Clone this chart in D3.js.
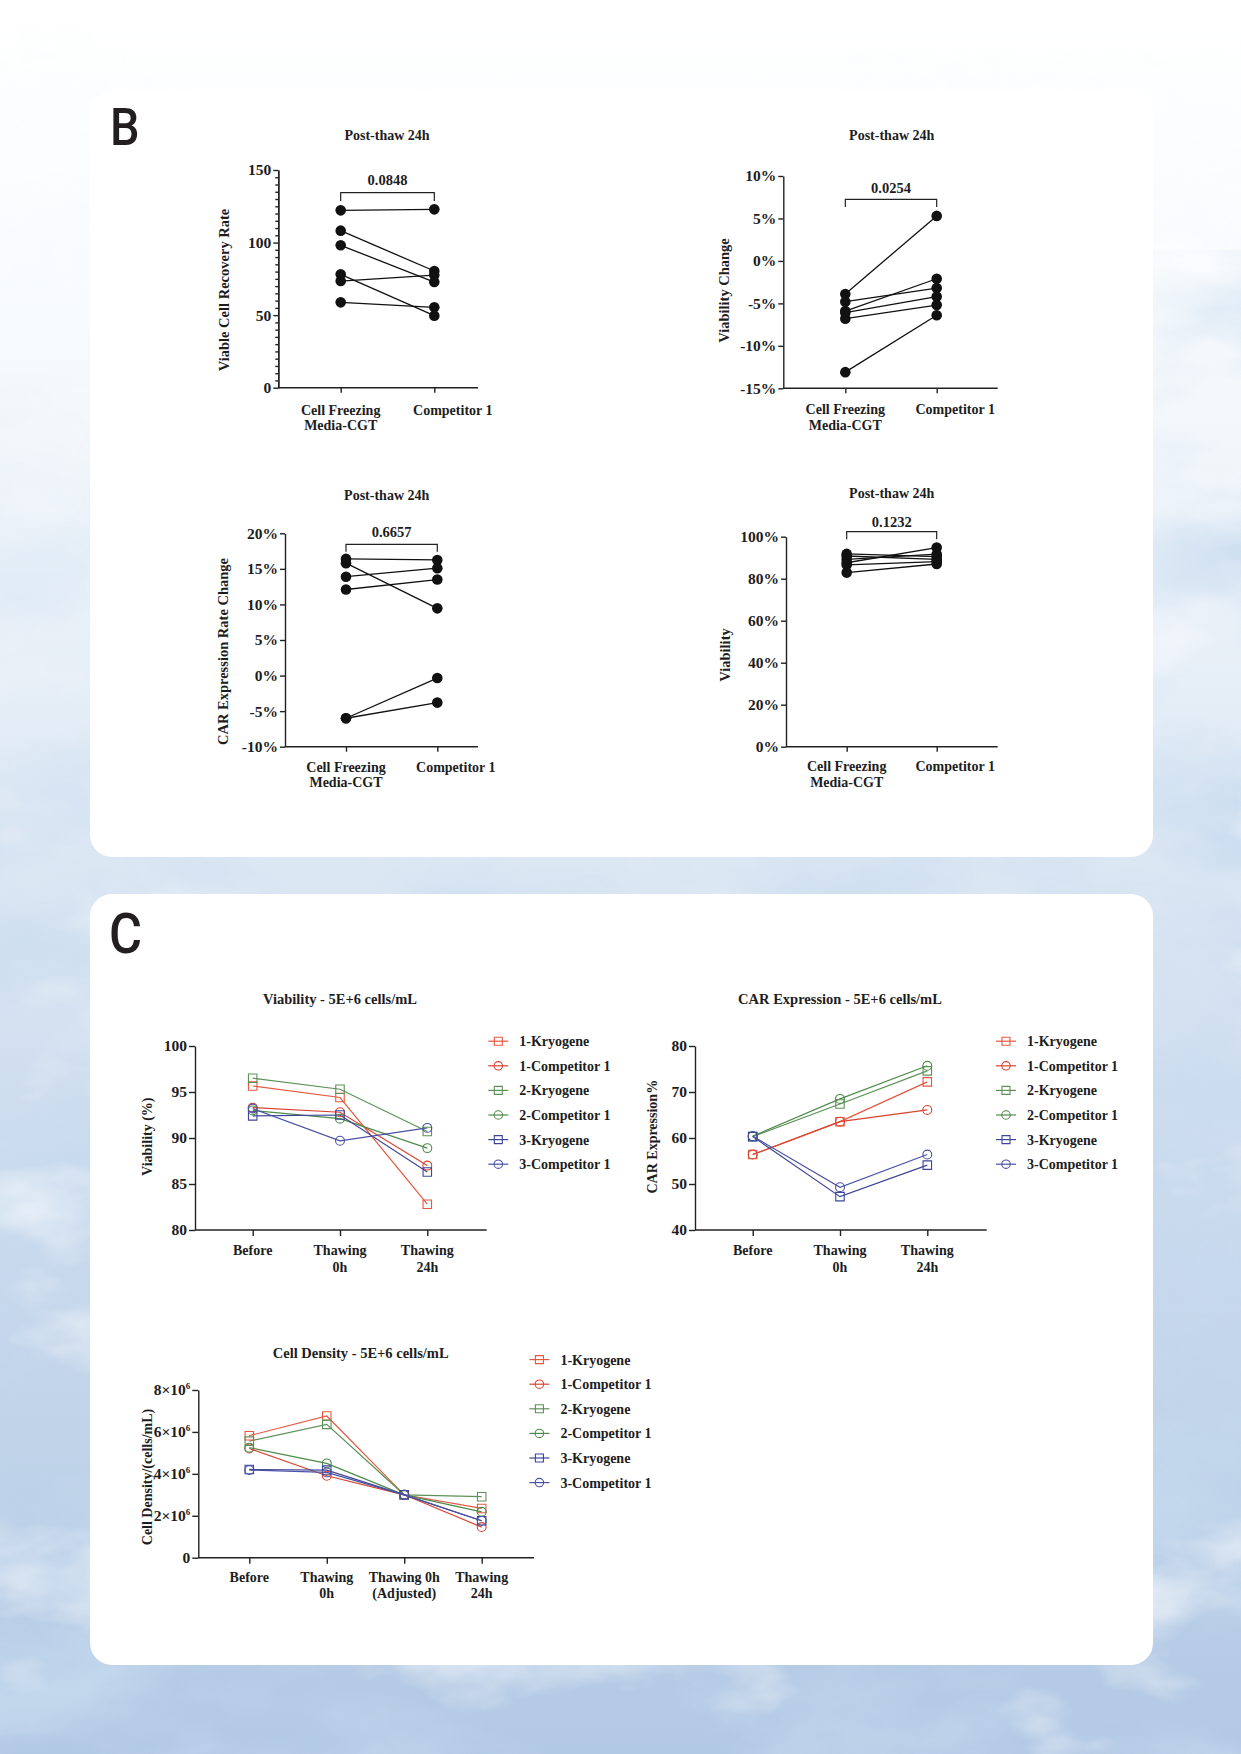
<!DOCTYPE html>
<html>
<head>
<meta charset="utf-8">
<script src="https://cdn.jsdelivr.net/npm/d3@7"></script>
<style>
body { margin: 0; }
svg { display: block; }
</style>
</head>
<body>
<script>
// ---- data ----
var pairCats = ["Cell Freezing Media-CGT", "Competitor 1"];
var pairCatLines = [["Cell Freezing", "Media-CGT"], ["Competitor 1"]];
var pValues = ["0.0848", "0.0254", "0.6657", "0.1232"];

var recoveryCGT = [122.2, 108.2, 98.1, 78.1, 73.5, 58.8];
var recoveryComp = [122.9, 80.4, 72.8, 49.6, 77.6, 55.4];
var recoveryTicks = [0, 50, 100, 150];

var viabChangeCGT = [-3.9, -4.8, -5.9, -6.1, -6.8, -13.1];
var viabChangeComp = [5.3, -3.2, -2.1, -4.2, -5.2, -6.4];
var viabChangeTicks = [-15, -10, -5, 0, 5, 10];

var carChangeCGT = [16.4, 15.8, 13.9, 12.1, -6.0, -6.0];
var carChangeComp = [16.25, 9.45, 15.1, 13.5, -0.35, -3.8];
var carChangeTicks = [-10, -5, 0, 5, 10, 15, 20];

var viabilityCGT = [91.8, 90.8, 89.2, 87.6, 86.6, 82.9];
var viabilityComp = [90.5, 89.2, 91.7, 94.8, 88.1, 87.0];
var viabilityTicks = [0, 20, 40, 60, 80, 100];

var seriesNames = ["1-Kryogene", "1-Competitor 1", "2-Kryogene", "2-Competitor 1", "3-Kryogene", "3-Competitor 1"];

var timeCats3 = ["Before", "Thawing 0h", "Thawing 24h"];
var timeCatLines3 = [["Before"], ["Thawing", "0h"], ["Thawing", "24h"]];
var timeCats4 = ["Before", "Thawing 0h", "Thawing 0h (Adjusted)", "Thawing 24h"];
var timeCatLines4 = [["Before"], ["Thawing", "0h"], ["Thawing 0h", "(Adjusted)"], ["Thawing", "24h"]];

var viabilitySeries = [
  [95.65, 94.4, 82.8],
  [93.3, 92.8, 87.0],
  [96.5, 95.3, 90.7],
  [93.0, 92.1, 88.9],
  [92.4, 92.5, 86.3],
  [93.2, 89.7, 91.1]
];
var viabilityLineTicks = [80, 85, 90, 95, 100];

var carSeries = [
  [56.4, 63.55, 72.2],
  [56.4, 63.55, 66.1],
  [60.3, 67.4, 74.6],
  [60.4, 68.5, 75.7],
  [60.3, 47.25, 54.1],
  [60.4, 49.3, 56.4]
];
var carLineTicks = [40, 50, 60, 70, 80];

var densitySeries = [
  [5.82e6, 6.76e6, 3.0e6, 2.35e6],
  [5.21e6, 3.91e6, 3.0e6, 1.46e6],
  [5.56e6, 6.36e6, 3.0e6, 2.91e6],
  [5.25e6, 4.50e6, 3.0e6, 2.19e6],
  [4.21e6, 4.18e6, 3.0e6, 1.76e6],
  [4.18e6, 4.07e6, 3.0e6, 1.76e6]
];
var densityTicks = [0, 2e6, 4e6, 6e6, 8e6];

// ---- styles ----
var seriesColors = ["#e5583f", "#d9432f", "#5c9157", "#4e8a4b", "#3d4598", "#4a51a4"];
var seriesShapes = [d3.symbolSquare, d3.symbolCircle, d3.symbolSquare, d3.symbolCircle, d3.symbolSquare, d3.symbolCircle];
var serif = "'Liberation Serif', 'Times New Roman', serif";
var ink = "#1d1d1d";

var svg = d3.select("body").append("svg")
    .attr("width", 1241)
    .attr("height", 1754);

// ---- icy background ----
var defs = svg.append("defs");
var bg = defs.append("linearGradient").attr("id", "bgGrad")
    .attr("x1", 0).attr("y1", 0).attr("x2", 0).attr("y2", 1);
[[0, "#ffffff"], [0.18, "#f8fbfd"], [0.42, "#e3ecf6"], [0.62, "#cfdeef"], [1, "#b2c9e4"]].forEach(function(s) {
  bg.append("stop").attr("offset", s[0]).attr("stop-color", s[1]);
});

var f = defs.append("filter").attr("id", "ice")
    .attr("x", 0).attr("y", 0).attr("width", 1).attr("height", 1);
f.append("feTurbulence").attr("type", "fractalNoise")
    .attr("baseFrequency", "0.004 0.008").attr("numOctaves", 5).attr("seed", 11).attr("result", "n");
f.append("feColorMatrix").attr("in", "n").attr("type", "matrix")
    .attr("values", "0 0 0 0 0.56  0 0 0 0 0.70  0 0 0 0 0.86  2.8 0 0 0 -1.2").attr("result", "blue");
f.append("feColorMatrix").attr("in", "n").attr("type", "matrix")
    .attr("values", "0 0 0 0 1  0 0 0 0 1  0 0 0 0 1  0 3.0 0 0 -1.7").attr("result", "white");
var fm = f.append("feMerge");
fm.append("feMergeNode").attr("in", "blue");
fm.append("feMergeNode").attr("in", "white");

var vfade = defs.append("linearGradient").attr("id", "vfade")
    .attr("gradientUnits", "userSpaceOnUse").attr("x1", 0).attr("y1", 0).attr("x2", 0).attr("y2", 1754);
[[0, "#000"], [0.2, "#111"], [0.45, "#808080"], [0.7, "#e0e0e0"], [1, "#fff"]].forEach(function(s) {
  vfade.append("stop").attr("offset", s[0]).attr("stop-color", s[1]);
});
var rfade = defs.append("linearGradient").attr("id", "rfade")
    .attr("gradientUnits", "userSpaceOnUse").attr("x1", 1120).attr("y1", 0).attr("x2", 1241).attr("y2", 0);
rfade.append("stop").attr("offset", 0).attr("stop-color", "#fff").attr("stop-opacity", 0);
rfade.append("stop").attr("offset", 1).attr("stop-color", "#fff").attr("stop-opacity", 0.9);

var mask = defs.append("mask").attr("id", "iceMask").attr("maskUnits", "userSpaceOnUse")
    .attr("x", 0).attr("y", 0).attr("width", 1241).attr("height", 1754);
mask.append("rect").attr("width", 1241).attr("height", 1754).attr("fill", "url(#vfade)");
mask.append("rect").attr("x", 1100).attr("y", 250).attr("width", 141).attr("height", 1504).attr("fill", "url(#rfade)");

svg.append("rect").attr("width", 1241).attr("height", 1754).attr("fill", "url(#bgGrad)");
svg.append("rect").attr("width", 1241).attr("height", 1754)
    .attr("fill", "#fff").attr("filter", "url(#ice)").attr("mask", "url(#iceMask)").attr("opacity", 0.85);

// ---- white cards ----
svg.append("rect").attr("x", 90).attr("y", 90).attr("width", 1063).attr("height", 767)
    .attr("rx", 22).attr("fill", "#ffffff");
svg.append("rect").attr("x", 90).attr("y", 894).attr("width", 1063).attr("height", 771)
    .attr("rx", 22).attr("fill", "#ffffff");

svg.append("text").attr("transform", "translate(110,145) scale(0.9,1)").attr("font-family", "Roboto, sans-serif")
    .attr("font-size", 52).attr("font-weight", 500).attr("fill", "#231f20").text("B");
svg.append("text").attr("transform", "translate(109,953) scale(0.92,1)").attr("font-family", "Roboto, sans-serif")
    .attr("font-size", 55).attr("font-weight", 500).attr("fill", "#231f20").text("C");

function styleAxis(a, size) {
  a.selectAll("path, line").attr("stroke", "#222").attr("stroke-width", 1.4);
  a.selectAll("text").attr("font-family", serif).attr("font-weight", "bold")
      .attr("font-size", size || 15.5).attr("fill", ink);
}

function label(g, x, y, txt, size, rotate) {
  var t = g.append("text")
      .attr("text-anchor", "middle")
      .attr("font-family", serif).attr("font-weight", "bold")
      .attr("font-size", size || 14).attr("fill", ink)
      .text(txt);
  if (rotate) t.attr("transform", "translate(" + x + "," + y + ") rotate(-90)").attr("dy", "0.35em");
  else t.attr("x", x).attr("y", y);
  return t;
}

function pct(d) { return d + "%"; }

// ---- paired dot charts (panel B) ----
function pairedChart(o) {
  var y = d3.scaleLinear().domain(o.domain).range([o.yBottom, o.yTop]);
  var x = d3.scalePoint().domain(pairCats).range([o.c0, o.c1]);
  var g = svg.append("g");

  label(g, o.titleX, o.titleY, "Post-thaw 24h", 14);

  if (o.minor) {
    var mi = g.append("g").attr("transform", "translate(" + o.ax + ",0)")
        .call(d3.axisLeft(y).tickValues(o.minor).tickSize(3).tickSizeOuter(0).tickFormat(""));
    styleAxis(mi);
  }
  var ya = g.append("g").attr("transform", "translate(" + o.ax + ",0)")
      .call(d3.axisLeft(y).tickValues(o.ticks).tickSize(5).tickSizeOuter(0).tickPadding(2).tickFormat(o.fmt));
  styleAxis(ya);

  var xa = g.append("g").attr("transform", "translate(0," + o.yBottom + ")")
      .call(d3.axisBottom(x).tickSize(5).tickFormat(""));
  xa.select(".domain").remove();
  styleAxis(xa);
  g.append("line").attr("x1", o.ax).attr("x2", o.xEnd)
      .attr("y1", o.yBottom).attr("y2", o.yBottom)
      .attr("stroke", "#222").attr("stroke-width", 1.4);

  // the second label sits a little right of its tick in the original
  var shift = [0, 18.5];
  pairCatLines.forEach(function(lines, i) {
    lines.forEach(function(l, j) {
      label(g, x(pairCats[i]) + shift[i], o.yBottom + o.catDy + j * 15.5, l, 14);
    });
  });

  o.left.forEach(function(v, i) {
    g.append("line")
        .attr("x1", x(pairCats[0])).attr("y1", y(v))
        .attr("x2", x(pairCats[1])).attr("y2", y(o.right[i]))
        .attr("stroke", "#111").attr("stroke-width", 1.3);
  });
  [o.left, o.right].forEach(function(arr, k) {
    g.selectAll(null).data(arr).enter().append("circle")
        .attr("cx", x(pairCats[k])).attr("cy", function(d) { return y(d); })
        .attr("r", 5.3).attr("fill", "#111");
  });

  // significance bracket
  var bx0 = x(pairCats[0]), bx1 = x(pairCats[1]);
  g.append("path")
      .attr("d", "M" + bx0 + "," + o.bBot + "V" + o.bTop + "H" + bx1 + "V" + o.bBot)
      .attr("fill", "none").attr("stroke", "#222").attr("stroke-width", 1.2);
  label(g, (bx0 + bx1) / 2, o.pY, o.p, 14.5);

  label(g, o.ylX, o.ylY, o.ylabel, 14.5, true);
}

pairedChart({ domain: [0, 150], ticks: recoveryTicks, minor: d3.range(0, 151, 5).filter(function(d) { return d % 50; }),
  fmt: d3.format("d"), left: recoveryCGT, right: recoveryComp, p: pValues[0],
  ax: 278.3, yTop: 170, yBottom: 387.7, c0: 340.7, c1: 434.3, xEnd: 478,
  titleX: 387, titleY: 140, catDy: 27, bTop: 192.7, bBot: 201, pY: 185,
  ylX: 224, ylY: 290, ylabel: "Viable Cell Recovery Rate" });

pairedChart({ domain: [-15, 10], ticks: viabChangeTicks, fmt: pct,
  left: viabChangeCGT, right: viabChangeComp, p: pValues[1],
  ax: 783.3, yTop: 176, yBottom: 388.3, c0: 845.3, c1: 936.7, xEnd: 997.7,
  titleX: 891.7, titleY: 140, catDy: 26, bTop: 199.3, bBot: 207, pY: 193,
  ylX: 724, ylY: 290.5, ylabel: "Viability Change" });

pairedChart({ domain: [-10, 20], ticks: carChangeTicks, fmt: pct,
  left: carChangeCGT, right: carChangeComp, p: pValues[2],
  ax: 285, yTop: 533.3, yBottom: 746.7, c0: 346, c1: 437.3, xEnd: 478,
  titleX: 386.7, titleY: 500, catDy: 25, bTop: 544.3, bBot: 551.7, pY: 536.5,
  ylX: 223, ylY: 651.5, ylabel: "CAR Expression Rate Change" });

pairedChart({ domain: [0, 100], ticks: viabilityTicks, fmt: pct,
  left: viabilityCGT, right: viabilityComp, p: pValues[3],
  ax: 786, yTop: 536.7, yBottom: 746.7, c0: 846.7, c1: 936.7, xEnd: 997.7,
  titleX: 891.7, titleY: 498, catDy: 24.5, bTop: 531.7, bBot: 539.3, pY: 526.5,
  ylX: 725, ylY: 655, ylabel: "Viability" });

// ---- time course charts (panel C) ----
function lineChart(o) {
  var y = d3.scaleLinear().domain(o.domain).range([o.yBottom, o.yTop]);
  var x = d3.scalePoint().domain(o.cats).range([o.c0, o.c1]);
  var g = svg.append("g");

  label(g, o.titleX, o.titleY, o.title, 14.5);

  var ya = g.append("g").attr("transform", "translate(" + o.ax + ",0)")
      .call(d3.axisLeft(y).tickValues(o.ticks).tickSize(6).tickSizeOuter(0).tickPadding(2).tickFormat(o.fmt || d3.format("d")));
  styleAxis(ya, 15.5);
  if (o.sup) {
    ya.selectAll(".tick text").each(function(d) {
      var t = d3.select(this).text("");
      if (d === 0) { t.text("0"); return; }
      t.append("tspan").text((d / 1e6) + "×10");
      t.append("tspan").attr("dy", -6).attr("font-size", 9).text("6");
    });
  }

  var xa = g.append("g").attr("transform", "translate(0," + o.yBottom + ")")
      .call(d3.axisBottom(x).tickSize(6).tickFormat(""));
  xa.select(".domain").remove();
  styleAxis(xa);
  g.append("line").attr("x1", o.ax).attr("x2", o.xEnd)
      .attr("y1", o.yBottom).attr("y2", o.yBottom)
      .attr("stroke", "#222").attr("stroke-width", 1.4);

  o.catLines.forEach(function(lines, i) {
    lines.forEach(function(l, j) {
      label(g, x(o.cats[i]), o.yBottom + o.catDy + j * 16.5, l, 14);
    });
  });

  var line = d3.line()
      .x(function(d, i) { return x(o.cats[i]); })
      .y(function(d) { return y(d); });

  o.series.forEach(function(vals, s) {
    g.append("path").attr("d", line(vals))
        .attr("fill", "none").attr("stroke", seriesColors[s]).attr("stroke-width", 1.2);
  });
  o.series.forEach(function(vals, s) {
    var sym = d3.symbol().type(seriesShapes[s]).size(seriesShapes[s] === d3.symbolSquare ? 72 : 62);
    g.selectAll(null).data(vals).enter().append("path")
        .attr("d", sym)
        .attr("transform", function(d, i) { return "translate(" + x(o.cats[i]) + "," + y(d) + ")"; })
        .attr("fill", "none").attr("stroke", seriesColors[s]).attr("stroke-width", 1.1);
  });

  label(g, o.ylX, o.ylY, o.ylabel, 14, true);

  // legend
  seriesNames.forEach(function(name, s) {
    var ly = o.legY + s * 24.6;
    g.append("line").attr("x1", o.legX - 10).attr("x2", o.legX + 10)
        .attr("y1", ly).attr("y2", ly)
        .attr("stroke", seriesColors[s]).attr("stroke-width", 1.2);
    g.append("path")
        .attr("d", d3.symbol().type(seriesShapes[s]).size(seriesShapes[s] === d3.symbolSquare ? 64 : 56))
        .attr("transform", "translate(" + o.legX + "," + ly + ")")
        .attr("fill", "none").attr("stroke", seriesColors[s]).attr("stroke-width", 1.1);
    g.append("text").attr("x", o.legX + 21).attr("y", ly + 5)
        .attr("font-family", serif).attr("font-weight", "bold")
        .attr("font-size", 14).attr("fill", ink).text(name);
  });
}

lineChart({ title: "Viability - 5E+6 cells/mL", cats: timeCats3, catLines: timeCatLines3,
  series: viabilitySeries, domain: [80, 100], ticks: viabilityLineTicks,
  ax: 195, yTop: 1046, yBottom: 1230, c0: 252.7, c1: 427.3, xEnd: 486.7,
  titleX: 340, titleY: 1004, catDy: 25, ylX: 146.7, ylY: 1136.7, ylabel: "Viability (%)",
  legX: 498.3, legY: 1041.2 });

lineChart({ title: "CAR Expression - 5E+6 cells/mL", cats: timeCats3, catLines: timeCatLines3,
  series: carSeries, domain: [40, 80], ticks: carLineTicks,
  ax: 695, yTop: 1046, yBottom: 1230, c0: 752.7, c1: 927.3, xEnd: 986.7,
  titleX: 840, titleY: 1004, catDy: 25, ylX: 651.7, ylY: 1136.7, ylabel: "CAR Expression%",
  legX: 1006, legY: 1041.2 });

lineChart({ title: "Cell Density - 5E+6 cells/mL", cats: timeCats4, catLines: timeCatLines4,
  series: densitySeries, domain: [0, 8e6], ticks: densityTicks, sup: true,
  ax: 198.3, yTop: 1390, yBottom: 1557.7, c0: 249.3, c1: 481.7, xEnd: 534,
  titleX: 360.7, titleY: 1358, catDy: 24, ylX: 146.7, ylY: 1477, ylabel: "Cell Density/(cells/mL)",
  legX: 539.4, legY: 1359.6 });
</script>
</body>
</html>
